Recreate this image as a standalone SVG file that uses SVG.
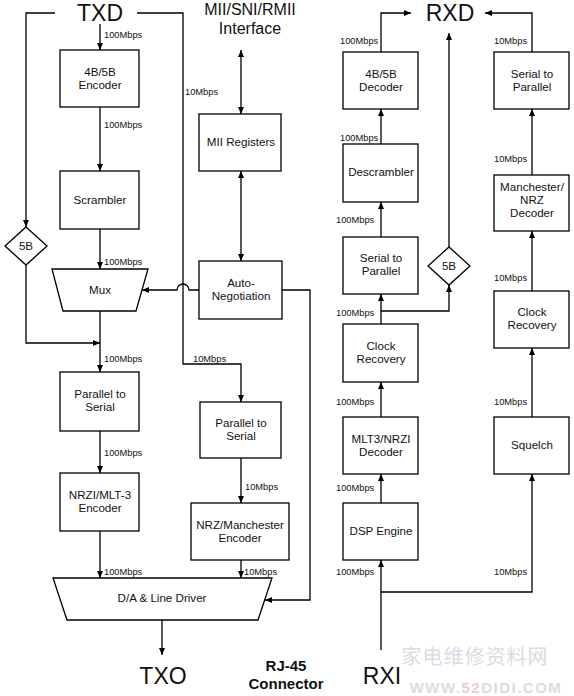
<svg xmlns="http://www.w3.org/2000/svg" width="574" height="696" viewBox="0 0 574 696">
<defs>
<marker id="ah" viewBox="0 0 7 6" refX="7" refY="3" markerWidth="7" markerHeight="6" markerUnits="userSpaceOnUse" orient="auto-start-reverse">
<path d="M0,0 L7,3 L0,6 z" fill="#000"/>
</marker>
<style>
.b{fill:#fff;stroke:#000;stroke-width:1.3}
.t{font-family:"Liberation Sans",Arial,sans-serif;font-size:11.6px;fill:#111;text-anchor:middle}
.l{font-family:"Liberation Sans",Arial,sans-serif;font-size:9.3px;fill:#111}
.big{font-family:"Liberation Sans",Arial,sans-serif;font-size:23px;fill:#111;text-anchor:middle}
.c{fill:none;stroke:#000;stroke-width:1.3}
.a{marker-end:url(#ah)}
.d{marker-start:url(#ah);marker-end:url(#ah)}
</style>
</defs>
<rect width="574" height="696" fill="#fff"/>

<g id="connectors">
<path class="c a" d="M100,24 V50"/>
<path class="c a" d="M100,107 V171"/>
<path class="c a" d="M100,229 V269"/>
<path class="c a" d="M100,311 V372"/>
<path class="c a" d="M100,431 V473"/>
<path class="c a" d="M100,531 V578"/>
<path class="c a" d="M162,620 V655"/>
<path class="c a" d="M55,13 H26 V227"/>
<path class="c a" d="M26,265 V343 H100"/>
<path class="c a" d="M137,13 H183 V364 H241 V402"/>
<path class="c a" d="M241,458 V503"/>
<path class="c a" d="M241,560 V578"/>
<path class="c d" d="M241,50 V114"/>
<path class="c d" d="M241,171 V261"/>
<path class="c a" d="M199,290 H189 A6,6 0 0 0 177,290 H142"/>
<path class="c a" d="M282,290 H310 V600 H265"/>
<path class="c a" d="M381,650 V560"/>
<path class="c a" d="M381,503 V474"/>
<path class="c a" d="M381,417 V382"/>
<path class="c a" d="M381,324 V294"/>
<path class="c a" d="M381,311 H449 V285"/>
<path class="c a" d="M449,247 V33"/>
<path class="c a" d="M381,237 V202"/>
<path class="c a" d="M381,144 V109"/>
<path class="c a" d="M381,52 V13 H411"/>
<path class="c a" d="M381,592 H532 V474"/>
<path class="c a" d="M532,417 V348"/>
<path class="c a" d="M532,291 V231"/>
<path class="c a" d="M532,175 V109"/>
<path class="c a" d="M532,52 V13 H485"/>
</g>

<g id="labels">
<text class="l" x="104" y="38">100Mbps</text>
<text class="l" x="104" y="128">100Mbps</text>
<text class="l" x="104" y="265">100Mbps</text>
<text class="l" x="104" y="362">100Mbps</text>
<text class="l" x="104" y="456">100Mbps</text>
<text class="l" x="104" y="575">100Mbps</text>
<text class="l" x="185" y="95">10Mbps</text>
<text class="l" x="193" y="362">10Mbps</text>
<text class="l" x="245" y="490">10Mbps</text>
<text class="l" x="244" y="575">10Mbps</text>
<text class="l" x="340" y="44">100Mbps</text>
<text class="l" x="340" y="141">100Mbps</text>
<text class="l" x="336" y="223">100Mbps</text>
<text class="l" x="336" y="316">100Mbps</text>
<text class="l" x="336" y="405">100Mbps</text>
<text class="l" x="336" y="491">100Mbps</text>
<text class="l" x="336" y="575">100Mbps</text>
<text class="l" x="494" y="44">10Mbps</text>
<text class="l" x="494" y="162">10Mbps</text>
<text class="l" x="494" y="281">10Mbps</text>
<text class="l" x="494" y="405">10Mbps</text>
<text class="l" x="494" y="575">10Mbps</text>
</g>

<g id="TXD"><text class="big" x="100" y="21">TXD</text></g>
<g id="MII"><text class="t" x="250" y="15" style="font-size:16px">MII/SNI/RMII</text><text class="t" x="250" y="34" style="font-size:16px">Interface</text></g>
<g id="RXD"><text class="big" x="450" y="21">RXD</text></g>
<g id="TXO"><text class="big" x="163" y="684">TXO</text></g>
<g id="RXI"><text class="big" x="382" y="684">RXI</text></g>
<g id="RJ45"><text class="t" x="286" y="671" style="font-size:15px;font-weight:bold">RJ-45</text><text class="t" x="286" y="689" style="font-size:15px;font-weight:bold">Connector</text></g>

<g id="enc4b5b"><rect class="b" x="60" y="50" width="79" height="57"/><text class="t" x="100" y="76">4B/5B</text><text class="t" x="100" y="89">Encoder</text></g>
<g id="scrambler"><rect class="b" x="60" y="171" width="79" height="58"/><text class="t" x="100" y="204">Scrambler</text></g>
<g id="tx5b"><path class="b" d="M26,227 L47,246 L26,265 L5,246 z"/><text class="t" x="26" y="250">5B</text></g>
<g id="mux"><path class="b" d="M52,269 H148 L136,311 H63 z"/><text class="t" x="100" y="294">Mux</text></g>
<g id="p2s100"><rect class="b" x="60" y="372" width="79" height="59"/><text class="t" x="100" y="398">Parallel to</text><text class="t" x="100" y="411">Serial</text></g>
<g id="nrzi"><rect class="b" x="60" y="473" width="79" height="58"/><text class="t" x="100" y="499">NRZI/MLT-3</text><text class="t" x="100" y="512">Encoder</text></g>
<g id="da"><path class="b" d="M53,578 H272 L258,620 H67 z"/><text class="t" x="162" y="602">D/A &amp; Line Driver</text></g>
<g id="miireg"><rect class="b" x="199" y="114" width="82" height="57"/><text class="t" x="241" y="146">MII Registers</text></g>
<g id="autoneg"><rect class="b" x="199" y="261" width="83" height="58"/><text class="t" x="241" y="287">Auto-</text><text class="t" x="241" y="300">Negotiation</text></g>
<g id="p2s10"><rect class="b" x="200" y="402" width="81" height="56"/><text class="t" x="241" y="427">Parallel to</text><text class="t" x="241" y="440">Serial</text></g>
<g id="nrzman"><rect class="b" x="191" y="503" width="98" height="57"/><text class="t" x="240" y="529">NRZ/Manchester</text><text class="t" x="240" y="542">Encoder</text></g>

<g id="dec4b5b"><rect class="b" x="343" y="52" width="75" height="57"/><text class="t" x="381" y="78">4B/5B</text><text class="t" x="381" y="91">Decoder</text></g>
<g id="descr"><rect class="b" x="343" y="144" width="75" height="58"/><text class="t" x="381" y="176">Descrambler</text></g>
<g id="s2p100"><rect class="b" x="343" y="237" width="75" height="57"/><text class="t" x="381" y="262">Serial to</text><text class="t" x="381" y="275">Parallel</text></g>
<g id="rx5b"><path class="b" d="M449,247 L470,266 L449,285 L428,266 z"/><text class="t" x="449" y="270">5B</text></g>
<g id="clk100"><rect class="b" x="343" y="324" width="75" height="58"/><text class="t" x="381" y="350">Clock</text><text class="t" x="381" y="363">Recovery</text></g>
<g id="mlt3"><rect class="b" x="343" y="417" width="75" height="57"/><text class="t" x="381" y="443">MLT3/NRZI</text><text class="t" x="381" y="456">Decoder</text></g>
<g id="dsp"><rect class="b" x="343" y="503" width="75" height="57"/><text class="t" x="381" y="535">DSP Engine</text></g>
<g id="s2p10"><rect class="b" x="494" y="52" width="75" height="57"/><text class="t" x="532" y="78">Serial to</text><text class="t" x="532" y="91">Parallel</text></g>
<g id="mandec"><rect class="b" x="494" y="175" width="75" height="56"/><text class="t" x="532" y="191">Manchester/</text><text class="t" x="532" y="204">NRZ</text><text class="t" x="532" y="217">Decoder</text></g>
<g id="clk10"><rect class="b" x="494" y="291" width="75" height="57"/><text class="t" x="532" y="316">Clock</text><text class="t" x="532" y="329">Recovery</text></g>
<g id="squelch"><rect class="b" x="494" y="417" width="75" height="57"/><text class="t" x="532" y="449">Squelch</text></g>

<g id="watermark" opacity="0.55">
<text x="475" y="664" text-anchor="middle" style="font-family:'Noto Sans CJK SC',sans-serif;font-size:20px;fill:#b8c0d0;letter-spacing:1px">家电维修资料网</text>
<text x="486" y="693" text-anchor="middle" style="font-family:'Liberation Sans',Arial,sans-serif;font-size:15px;font-weight:bold;fill:#c0c0c8;letter-spacing:1.5px">WWW.<tspan fill="#f0a0a0">52</tspan>DIDI.COM</text>
</g>
</svg>
